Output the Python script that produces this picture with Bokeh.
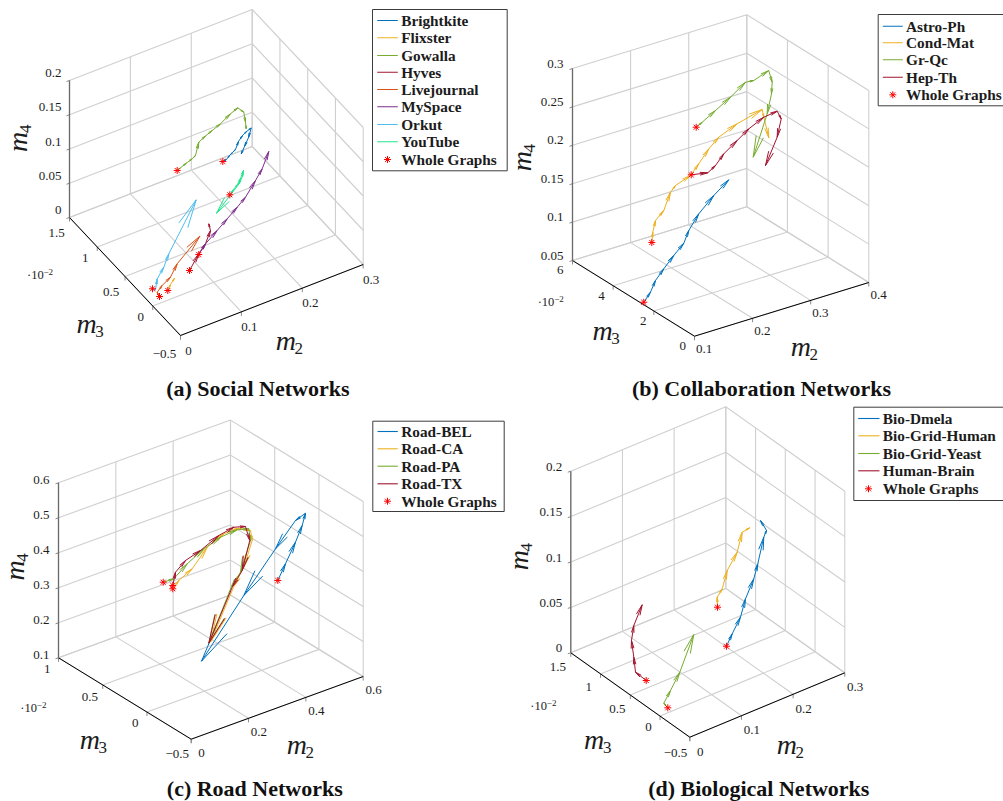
import math
from bokeh.plotting import figure
from bokeh.models import Range1d
from bokeh.core.properties import value
from bokeh.embed import file_html
from bokeh.resources import INLINE

BLUE, YEL, GRN, RED = "#0072BD", "#EDB120", "#77AC30", "#A2142F"
ORG, PUR, CYA, TEAL = "#D95319", "#7E2F8E", "#4DBEEE", "#22E58B"

# ---------- (a) Social networks: m2, m4, m3 estimated per series
a_brightkite_m3 = 0.2
a_brightkite_m2 = [.1333,.1393,.1443,.1492,.1541,.1590,.1656,.1722,.1799,.1755,.1689,.1635]
a_brightkite_m4 = [.1477,.1485,.1526,.1553,.1580,.1680,.1744,.1780,.1805,.1681,.1573,.1482]
a_flixster_m3 = 0.0
a_flixster_m2 = [.0247,.0291,.0357]
a_flixster_m4 = [.0141,.0213,.0282]
a_gowalla_m3 = 0.6
a_gowalla_m2 = [.0948,.1002,.1101,.1195,.1249,.1303,.1413,.1523,.1659,.1823,.1943,.2042,.2070,.2081]
a_gowalla_m4 = [.1134,.1154,.1190,.1219,.1249,.1424,.1477,.1519,.1570,.1659,.1705,.1607,.1451,.1351]
a_hyves_m3 = 0.0
a_hyves_m2 = [.0603,.0756,.0866,.0948,.0920]
a_hyves_m4 = [.0310,.0501,.0609,.0774,.0882]
a_livejournal_m3 = 0.0
a_livejournal_m2 = [.0111,.0073,.0155,.0291,.0401,.0773]
a_livejournal_m4 = [.0100,.0176,.0246,.0320,.0477,.0752]
a_myspace_m3 = 0.1
a_myspace_m2 = [.0847,.0957,.1149,.1314,.1478,.1614,.1778,.1888,.1997]
a_myspace_m4 = [.0373,.0491,.0619,.0733,.0845,.0944,.1131,.1264,.1479]
a_orkut_m3 = 0.1
a_orkut_m2 = [.0087,.0136,.0164,.0273,.0355,.0805]
a_orkut_m4 = [.0135,.0103,.0254,.0386,.0553,.1186]
a_youtube_m3 = 0.3
a_youtube_m2 = [.1539,.1599,.1665,.1714,.1764,.1747,.1681,.1320]
a_youtube_m4 = [.0833,.0890,.0940,.1011,.1110,.1028,.0934,.0640]

# ---------- (b) Collaboration networks
b_astro_m3 = 2.5
b_astro_m2 = [.1002,.1117,.1203,.1346,.1518,.1691,.1777,.1949,.2207,.2465]
b_astro_m4 = [.0531,.0635,.0767,.0886,.1019,.1139,.1285,.1462,.1640,.1784]
b_cond_m3 = 3.5
b_cond_m2 = [.1490,.1507,.1554,.1696,.1812,.1898,.2156,.2299,.2471,.2643,.2960,.3390,.3418,.3504]
b_cond_m4 = [.1031,.1161,.1302,.1399,.1611,.1678,.1748,.1867,.2022,.2133,.2234,.2320,.2213,.1925]
b_grqc_m3 = 4.0
b_grqc_m2 = [.2429,.2532,.2761,.3019,.3277,.3420,.3678,.3737,.3725,.3651,.3410]
b_grqc_m4 = [.2231,.2272,.2371,.2484,.2619,.2608,.2678,.2512,.2364,.2121,.1612]
b_hepth_m3 = 3.0
b_hepth_m2 = [.1993,.2279,.2412,.2554,.2785,.2985,.3243,.3473,.3542,.3473,.3272]
b_hepth_m4 = [.1877,.1837,.1901,.2020,.2139,.2245,.2336,.2360,.2245,.2022,.1700]

# ---------- (c) Road networks
c_bel_m3 = 0.0
c_bel_m2 = [.4564,.4832,.5181,.5415,.5530,.5181,.4484,.3378,.1902]
c_bel_m4 = [.3397,.3794,.4307,.4714,.5031,.4927,.4326,.3322,.1885]
c_ca_m3 = 0.5
c_ca_m2 = [.2444,.2654,.3121,.3644,.4223,.4747,.5155,.5214,.4921,.4572,.3759]
c_ca_m4 = [.3017,.3191,.3386,.3847,.4057,.4061,.3873,.3570,.2895,.2447,.1099]
c_pa_m3 = 0.5
c_pa_m2 = [.2109,.2479,.2947,.3526,.4108,.4691,.5095,.5155,.4806,.4492,.3700]
c_pa_m4 = [.3305,.3292,.3581,.3837,.3994,.4032,.3940,.3588,.2786,.2471,.1088]
c_tx_m3 = 0.5
c_tx_m2 = [.2444,.2538,.2887,.3411,.4049,.4572,.4980,.5130,.4865,.4527,.3700]
c_tx_m4 = [.3111,.3463,.3693,.3823,.4061,.4141,.4040,.3595,.2817,.2461,.1088]

# ---------- (d) Biological networks
d_dmela_m3 = 0.2
d_dmela_m2 = [.1516,.1627,.1787,.1884,.2045,.2122,.2238,.2291,.2174]
d_dmela_m4 = [.0318,.0429,.0574,.0753,.0936,.1083,.1348,.1410,.1547]
d_human_m3 = 0.6
d_human_m2 = [.1803,.1797,.1894,.1991,.2184,.2281,.2428]
d_human_m4 = [.0494,.0606,.0675,.0854,.1010,.1207,.1221]
d_yeast_m3 = 0.0
d_yeast_m2 = [.0150,.0073,.0202,.0382,.0653]
d_yeast_m4 = [.0056,.0125,.0234,.0393,.0744]
d_brain_m3 = 0.5
d_brain_m2 = [.0308,.0101,.0068,.0023,.0068,.0230]
d_brain_m4 = [.0087,.0227,.0400,.0595,.0749,.0939]

# ---------- tick labels
a_m2_ticks = [0, .1, .2, .3];  a_m2_labels = ["0", "0.1", "0.2", "0.3"]
a_m3_ticks = [1.5, 1, .5, 0, -.5];  a_m3_labels = ["1.5", "1", "0.5", "0", "\u22120.5"]
a_m4_ticks = [0, .05, .1, .15, .2];  a_m4_labels = ["0", "0.05", "0.1", "0.15", "0.2"]
b_m2_ticks = [.1, .2, .3, .4];  b_m2_labels = ["0.1", "0.2", "0.3", "0.4"]
b_m3_ticks = [6, 4, 2, 0];  b_m3_labels = ["6", "4", "2", "0"]
b_m4_ticks = [.05, .1, .15, .2, .25, .3];  b_m4_labels = ["0.05", "0.1", "0.15", "0.2", "0.25", "0.3"]
c_m2_ticks = [0, .2, .4, .6];  c_m2_labels = ["0", "0.2", "0.4", "0.6"]
c_m3_ticks = [1, .5, 0, -.5];  c_m3_labels = ["1", "0.5", "0", "\u22120.5"]
c_m4_ticks = [.1, .2, .3, .4, .5, .6];  c_m4_labels = ["0.1", "0.2", "0.3", "0.4", "0.5", "0.6"]
d_m2_ticks = a_m2_ticks;  d_m2_labels = a_m2_labels
d_m3_ticks = a_m3_ticks;  d_m3_labels = a_m3_labels
d_m4_ticks = a_m4_ticks;  d_m4_labels = a_m4_labels

PANELS = [
    dict(caption="(a) Social Networks", cap=(257.3, 388.3),
         F=(180, 335), L=(69, 217), R=(362.7, 264), h=137,
         m2=a_m2_ticks, m2l=a_m2_labels, m3=a_m3_ticks, m3l=a_m3_labels, m4=a_m4_ticks, m4l=a_m4_labels,
         m4x=61, m4dy=-7.5, m2off=(8, 15),
         m3off=[(-13, 15), (-12, 11), (-14, 15), (-12, 11), (-16, 18)],
         mult=(40, 274), lab3=(89, 326), lab2=(288.3, 342.7), lab4=(20, 137.3),
         series=[("Brightkite", BLUE, a_brightkite_m2, a_brightkite_m3, a_brightkite_m4),
                 ("Flixster", YEL, a_flixster_m2, a_flixster_m3, a_flixster_m4),
                 ("Gowalla", GRN, a_gowalla_m2, a_gowalla_m3, a_gowalla_m4),
                 ("Hyves", RED, a_hyves_m2, a_hyves_m3, a_hyves_m4),
                 ("Livejournal", ORG, a_livejournal_m2, a_livejournal_m3, a_livejournal_m4),
                 ("MySpace", PUR, a_myspace_m2, a_myspace_m3, a_myspace_m4),
                 ("Orkut", CYA, a_orkut_m2, a_orkut_m3, a_orkut_m4),
                 ("YouTube", TEAL, a_youtube_m2, a_youtube_m3, a_youtube_m4)],
         box=(372, 9, 506.7, 170.3), lx=(376.7, 397.3), tx=400.7, mx=387,
         ly=[20, 37.3, 55, 71.7, 89, 106.3, 124, 141.3, 159]),
    dict(caption="(b) Collaboration Networks", cap=(761, 388.3),
         F=(694, 335.7), L=(572, 260), R=(868.3, 282), h=192,
         m2=b_m2_ticks, m2l=b_m2_labels, m3=b_m3_ticks, m3l=b_m3_labels, m4=b_m4_ticks, m4l=b_m4_labels,
         m4x=563, m4dy=-5, m2off=(9.7, 12.8),
         m3off=[(-12.3, 9.3), (-11.7, 10), (-10.7, 10), (-11.7, 10)],
         mult=(550.7, 301.7), lab3=(605, 333), lab2=(803.3, 349), lab4=(524, 156.7),
         series=[("Astro-Ph", BLUE, b_astro_m2, b_astro_m3, b_astro_m4),
                 ("Cond-Mat", YEL, b_cond_m2, b_cond_m3, b_cond_m4),
                 ("Gr-Qc", GRN, b_grqc_m2, b_grqc_m3, b_grqc_m4),
                 ("Hep-Th", RED, b_hepth_m2, b_hepth_m3, b_hepth_m4)],
         box=(877.7, 14, 1010, 105.3), lx=(882.3, 902.3), tx=905.5, mx=892.3,
         ly=[25.7, 42.3, 59.3, 76.7, 94.3]),
    dict(caption="(c) Road Networks", cap=(254.3, 788.3),
         F=(190.7, 738.7), L=(58, 657.3), R=(362.7, 676), h=175,
         m2=c_m2_ticks, m2l=c_m2_labels, m3=c_m3_ticks, m3l=c_m3_labels, m4=c_m4_ticks, m4l=c_m4_labels,
         m4x=49, m4dy=-3.3, m2off=(10.4, 13.5),
         m3off=[(-11.3, 11.3), (-12.9, 12.2), (-11.7, 10.5), (-14, 14.6)],
         mult=(33.3, 707.7), lab3=(92.3, 742.3), lab2=(299.3, 747.3), lab4=(16.7, 566),
         series=[("Road-BEL", BLUE, c_bel_m2, c_bel_m3, c_bel_m4),
                 ("Road-CA", YEL, c_ca_m2, c_ca_m3, c_ca_m4),
                 ("Road-PA", GRN, c_pa_m2, c_pa_m3, c_pa_m4),
                 ("Road-TX", RED, c_tx_m2, c_tx_m3, c_tx_m4)],
         box=(372.3, 420.7, 503.7, 511), lx=(377, 397.3), tx=400.7, mx=387,
         ly=[431, 448.3, 465.7, 483.3, 500.7]),
    dict(caption="(d) Biological Networks", cap=(758.3, 788.3),
         F=(689.3, 736.7), L=(570.3, 652.3), R=(844.3, 672.3), h=181.6,
         m2=d_m2_ticks, m2l=d_m2_labels, m3=d_m3_ticks, m3l=d_m3_labels, m4=d_m4_ticks, m4l=d_m4_labels,
         m4x=561.7, m4dy=-4.5, m2off=(10.4, 14.5),
         m3off=[(-13, 14.4), (-11.7, 12.6), (-13, 14.2), (-11.5, 11), (-14.3, 16)],
         mult=(543.3, 705.7), lab3=(596.7, 742.3), lab2=(789.3, 747.3), lab4=(520.7, 555.7),
         series=[("Bio-Dmela", BLUE, d_dmela_m2, d_dmela_m3, d_dmela_m4),
                 ("Bio-Grid-Human", YEL, d_human_m2, d_human_m3, d_human_m4),
                 ("Bio-Grid-Yeast", GRN, d_yeast_m2, d_yeast_m3, d_yeast_m4),
                 ("Human-Brain", RED, d_brain_m2, d_brain_m3, d_brain_m4)],
         box=(853.3, 406.7, 1010, 500), lx=(857.7, 879), tx=882.3, mx=868,
         ly=[418, 435.3, 453, 470.3, 488.3]),
]

SERIF = value("Liberation Serif")
TXT = "#1c1c1c"
HEAD_RATIO, HEAD_ANGLE = 0.48, math.radians(10)

p = figure(width=1003, height=801, x_range=Range1d(0, 1003), y_range=Range1d(801, 0),
           x_axis_location=None, y_axis_location=None, toolbar_location=None,
           output_backend="svg", min_border=0, outline_line_color=None)
p.xgrid.visible = False
p.ygrid.visible = False


def label(x, y, s, size, style="normal", align="center", base="middle", angle=0.0, color=TXT):
    p.text([x], [y], text=[s], text_font=SERIF, text_font_size=f"{size}px", text_font_style=style,
           text_align=align, text_baseline=base, angle=angle, text_color=color)


for P in PANELS:
    Fx, Fy = P["F"]
    Lx, Ly = P["L"]
    Rx, Ry = P["R"]
    m2lo, m2hi = min(P["m2"]), max(P["m2"])
    m3lo, m3hi = min(P["m3"]), max(P["m3"])
    m4lo, m4hi = min(P["m4"]), max(P["m4"])

    def proj(a, b, c):
        u = (a - m2lo) / (m2hi - m2lo)
        v = (b - m3lo) / (m3hi - m3lo)
        w = (c - m4lo) / (m4hi - m4lo)
        return (Fx + u * (Rx - Fx) + v * (Lx - Fx), Fy + u * (Ry - Fy) + v * (Ly - Fy) - w * P["h"])

    # grid
    segs = []
    for t in P["m2"]:
        segs.append((proj(t, m3lo, m4lo), proj(t, m3hi, m4lo)))
        segs.append((proj(t, m3hi, m4lo), proj(t, m3hi, m4hi)))
    for t in P["m3"]:
        segs.append((proj(m2lo, t, m4lo), proj(m2hi, t, m4lo)))
        segs.append((proj(m2hi, t, m4lo), proj(m2hi, t, m4hi)))
    for t in P["m4"]:
        segs.append((proj(m2lo, m3hi, t), proj(m2hi, m3hi, t)))
        segs.append((proj(m2hi, m3hi, t), proj(m2hi, m3lo, t)))
    p.multi_line([[s[0][0], s[1][0]] for s in segs], [[s[0][1], s[1][1]] for s in segs],
                 line_color="#cfcfcf", line_width=1.1)

    # ticks
    ticks = []
    for t in P["m2"]:
        x, y = proj(t, m3lo, m4lo)
        ticks.append(([x, x], [y, y + 4]))
    for t in P["m3"]:
        x, y = proj(m2lo, t, m4lo)
        ticks.append(([x, x], [y, y + 4]))
    for t in P["m4"]:
        x, y = proj(m2lo, m3hi, t)
        ticks.append(([x - 3, x], [y + 1, y]))
    p.multi_line([t[0] for t in ticks], [t[1] for t in ticks], line_color="#8a8a8a", line_width=1)

    # axes
    p.line([Lx, Fx, Rx], [Ly, Fy, Ry], line_color="#000000", line_width=1)
    x0, y0 = proj(m2lo, m3hi, m4lo)
    x1, y1 = proj(m2lo, m3hi, m4hi)
    p.line([x0, x1], [y0, y1], line_color="#6a6a6a", line_width=1.3)

    # tick labels
    for t, s in zip(P["m4"], P["m4l"]):
        x, y = proj(m2lo, m3hi, t)
        label(P["m4x"], y + P["m4dy"], s, 13, align="right")
    for t, s, o in zip(P["m3"], P["m3l"], P["m3off"]):
        x, y = proj(m2lo, t, m4lo)
        label(x + o[0], y + o[1], s, 13)
    for t, s in zip(P["m2"], P["m2l"]):
        x, y = proj(t, m3lo, m4lo)
        label(x + P["m2off"][0], y + P["m2off"][1], s, 13)

    # multiplier and axis labels
    mx_, my_ = P["mult"]
    label(mx_ - 13.5, my_, "\u00b710", 12.5, align="left")
    label(mx_ + 3, my_ - 3, "\u22122", 9, align="left")
    for (cx, cy), sub in ((P["lab3"], "3"), (P["lab2"], "2")):
        label(cx - 3, cy - 3, "m", 28, style="italic")
        label(cx + 10, cy + 5, sub, 17)
    cx, cy = P["lab4"]
    label(cx - 3, cy + 4, "m", 28, style="italic", angle=math.pi / 2)
    label(cx + 5, cy - 9, "4", 17, angle=math.pi / 2)

    # series as quiver arrows
    star_x, star_y = [], []
    for name, col, a2, a3, a4 in P["series"]:
        pts = [proj(u, a3, w) for u, w in zip(a2, a4)]
        star_x.append(pts[0][0])
        star_y.append(pts[0][1])
        xs, ys = [], []
        for (x0, y0), (x1, y1) in zip(pts[:-1], pts[1:]):
            xs.append([x0, x1])
            ys.append([y0, y1])
            ang = math.atan2(y0 - y1, x0 - x1)
            n = HEAD_RATIO * math.hypot(x1 - x0, y1 - y0)
            for sgn in (-1, 1):
                xs.append([x1, x1 + n * math.cos(ang + sgn * HEAD_ANGLE)])
                ys.append([y1, y1 + n * math.sin(ang + sgn * HEAD_ANGLE)])
        p.multi_line(xs, ys, line_color=col, line_width=1.0)
    p.scatter(star_x, star_y, marker="asterisk", size=7, line_color="#ff0000", line_width=1.0)

    # legend
    bx0, by0, bx1, by1 = P["box"]
    p.quad(left=[bx0], right=[bx1], top=[by0], bottom=[by1], fill_color="#ffffff",
           line_color="#3c3c3c", line_width=1)
    names = [s[0] for s in P["series"]] + ["Whole Graphs"]
    for i, (nm, ly) in enumerate(zip(names, P["ly"])):
        if i < len(P["series"]):
            p.line(list(P["lx"]), [ly, ly], line_color=P["series"][i][1], line_width=1.1)
        else:
            p.scatter([P["mx"]], [ly], marker="asterisk", size=7, line_color="#ff0000", line_width=1.0)
        label(P["tx"], ly, nm, 15.3, style="bold", align="left")

    label(P["cap"][0], P["cap"][1], P["caption"], 22, style="bold", color="#111111")

open("out.html", "w").write(file_html(p, INLINE))
